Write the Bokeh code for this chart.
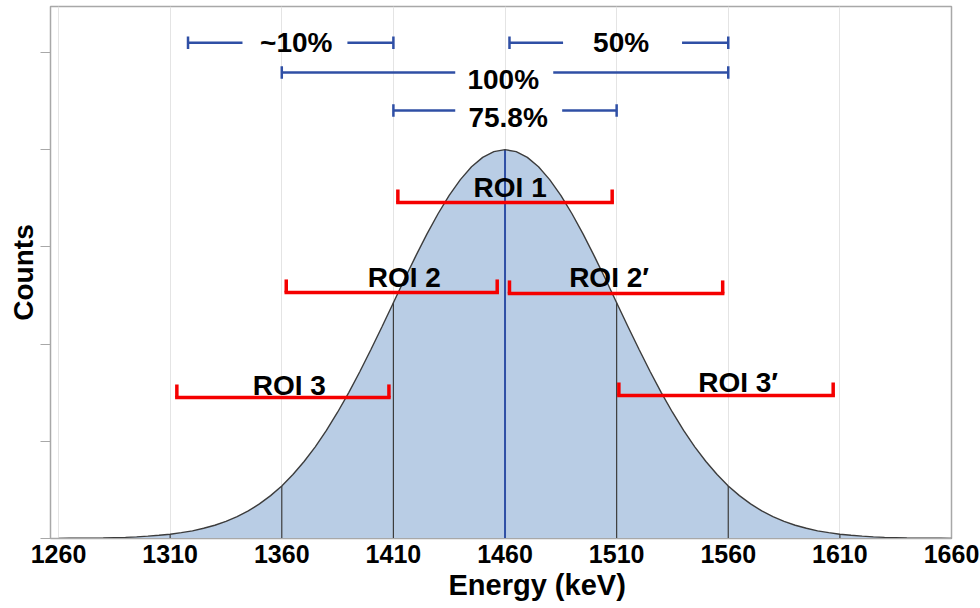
from bokeh.plotting import figure
from bokeh.models import ColumnDataSource, FixedTicker, Range1d, Title
from bokeh.core.properties import value
from bokeh.embed import file_html
from bokeh.resources import INLINE

# ---- data ----
energy = list(range(1260, 1665, 5))
counts_half = [0.001, 0.002, 0.003, 0.004, 0.006, 0.009, 0.012, 0.017, 0.024, 0.033,
               0.044, 0.060, 0.079, 0.105, 0.136, 0.176, 0.225, 0.284, 0.356, 0.441,
               0.541, 0.658, 0.792, 0.943, 1.112, 1.299, 1.501, 1.718, 1.947, 2.184,
               2.426, 2.669, 2.905, 3.131, 3.341, 3.530, 3.692, 3.824, 3.921, 3.980]
counts = counts_half + [4.000] + counts_half[::-1]

x_ticks = [1260, 1310, 1360, 1410, 1460, 1510, 1560, 1610, 1660]
y_ticks = [0, 1, 2, 3, 4, 5]

boundaries = [1310, 1360, 1410, 1510, 1560, 1610]
centre_energy = 1460

roi_labels = ["ROI 1", "ROI 2", "ROI 2\u2032", "ROI 3", "ROI 3\u2032"]
roi_start = [1412, 1362, 1462, 1313, 1511]
roi_end = [1508, 1456.5, 1557.5, 1408, 1607]
roi_level = [3.457, 2.531, 2.521, 1.451, 1.471]
roi_text_x = [1462.3, 1414.9, 1506.6, 1363.4, 1564.4]
roi_text_y = [3.611, 2.680, 2.680, 1.579, 1.600]

pct_labels = ["~10%", "50%", "100%", "75.8%"]
pct_start = [1318, 1462, 1360, 1410]
pct_end = [1410, 1560, 1560, 1510]
pct_gap_left = [1342.4, 1486, 1437.7, 1437.7]
pct_gap_right = [1389.4, 1539.3, 1481.6, 1485.6]
pct_level = [5.10, 5.10, 4.794, 4.403]
pct_text_x = [1366.5, 1512, 1459.2, 1461.4]
pct_text_y = [5.098, 5.099, 4.727, 4.336]

x_title = "Energy (keV)"
y_title = "Counts"

# ---- figure ----
FONT = value("Liberation Sans")
BLUE = "#2f4fa5"
RED = "#f50000"

p = figure(width=980, height=608, output_backend="svg", toolbar_location=None,
           x_range=Range1d(1256.4, 1660), y_range=Range1d(0, 5.473),
           min_border_left=50, min_border_right=29, min_border_top=6,
           min_border_bottom=70)
p.outline_line_color = "#a8a8a8"
p.outline_line_width = 1.5
p.background_fill_color = "white"
p.border_fill_color = "white"

p.ygrid.visible = False
p.xgrid.ticker = FixedTicker(ticks=x_ticks)
p.xgrid.grid_line_color = "#e4e4e4"
p.xgrid.grid_line_width = 1

p.xaxis.ticker = FixedTicker(ticks=x_ticks)
p.xaxis.major_tick_out = 0
p.xaxis.major_tick_in = 0
p.xaxis.minor_tick_line_color = None
p.xaxis.axis_line_color = "#a8a8a8"
p.xaxis.major_label_text_font = "Liberation Sans"
p.xaxis.major_label_text_font_style = "bold"
p.xaxis.major_label_text_font_size = "25px"
p.xaxis.major_label_text_color = "black"
p.xaxis.major_label_standoff = 6

p.yaxis.ticker = FixedTicker(ticks=y_ticks)
p.yaxis.major_tick_out = 10
p.yaxis.major_tick_in = 0
p.yaxis.major_tick_line_color = "#a8a8a8"
p.yaxis.minor_tick_line_color = None
p.yaxis.axis_line_color = "#a8a8a8"
p.yaxis.major_label_overrides = {t: "" for t in y_ticks}
p.yaxis.major_label_standoff = 0
p.yaxis.axis_label = y_title
p.yaxis.axis_label_text_font = "Liberation Sans"
p.yaxis.axis_label_text_font_style = "bold"
p.yaxis.axis_label_text_font_size = "28px"
p.yaxis.axis_label_text_color = "black"
p.yaxis.axis_label_standoff = 2

# curve
p.varea(x=energy, y1=[0] * len(energy), y2=counts, fill_color="#b9cde5")
lookup = dict(zip(energy, counts))
p.segment(x0=boundaries, y0=[0] * len(boundaries), x1=boundaries,
          y1=[lookup[b] for b in boundaries], line_color="#3c3c3c", line_width=1.2)
p.segment(x0=[centre_energy], y0=[0], x1=[centre_energy], y1=[lookup[centre_energy]],
          line_color=BLUE, line_width=2)
p.line(energy, counts, line_color="#3c3c3c", line_width=1.4)

# ROI brackets
cap = 0.134
roi = ColumnDataSource(dict(s=roi_start, e=roi_end, y=roi_level,
                            yc=[v + cap for v in roi_level],
                            tx=roi_text_x, ty=roi_text_y, t=roi_labels))
p.segment(x0="s", y0="y", x1="e", y1="y", source=roi, line_color=RED, line_width=3.5,
          line_cap="square")
p.segment(x0="s", y0="y", x1="s", y1="yc", source=roi, line_color=RED, line_width=3.5)
p.segment(x0="e", y0="y", x1="e", y1="yc", source=roi, line_color=RED, line_width=3.5)
p.text(x="tx", y="ty", text="t", source=roi, text_font=FONT, text_font_style="bold",
       text_font_size="28px", text_align="center", text_baseline="middle",
       text_color="black")

# percentage bars
bc = 0.065
pct = ColumnDataSource(dict(s=pct_start, e=pct_end, gl=pct_gap_left, gr=pct_gap_right,
                            y=pct_level, y0=[v - bc for v in pct_level],
                            y1=[v + bc for v in pct_level],
                            tx=pct_text_x, ty=pct_text_y, t=pct_labels))
p.segment(x0="s", y0="y", x1="gl", y1="y", source=pct, line_color=BLUE, line_width=2.5)
p.segment(x0="gr", y0="y", x1="e", y1="y", source=pct, line_color=BLUE, line_width=2.5)
p.segment(x0="s", y0="y0", x1="s", y1="y1", source=pct, line_color=BLUE, line_width=2.5)
p.segment(x0="e", y0="y0", x1="e", y1="y1", source=pct, line_color=BLUE, line_width=2.5)
p.text(x="tx", y="ty", text="t", source=pct, text_font=FONT, text_font_style="bold",
       text_font_size="28px", text_align="center", text_baseline="middle",
       text_color="black")

# x axis title, placed where the reference puts it (right of centre)
p.add_layout(Title(text=x_title, align="left", offset=398, standoff=3,
                   text_font="Liberation Sans", text_font_style="bold",
                   text_font_size="29px", text_color="black"), "below")

open("out.html", "w").write(file_html(p, INLINE))
